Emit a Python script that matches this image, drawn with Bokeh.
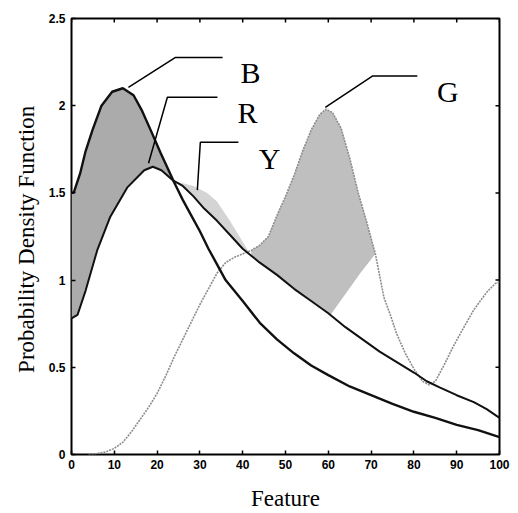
import math
from bokeh.plotting import figure
from bokeh.models import Range1d, FixedTicker, Title
from bokeh.embed import file_html
from bokeh.resources import INLINE
from bokeh.core.properties import value

# ---- data ----
x_ticks = [0, 10, 20, 30, 40, 50, 60, 70, 80, 90, 100]
y_ticks = [0, 0.5, 1, 1.5, 2, 2.5]
y_tick_labels = ["0", "0.5", "1", "1.5", "2", "2.5"]

# curve B (peak ~2.1 at x~12)
b_x = [0, 0.5, 2, 3.3, 4.9, 7, 9.5, 12, 14.5, 16.5, 18.5, 20.8, 22.5, 24, 26, 28, 30, 32,
       34, 36, 38, 40, 44, 48, 52, 56, 60, 65, 70, 75, 80, 85, 90, 95, 100]
b_y = [1.5, 1.5, 1.61, 1.74, 1.86, 2.0, 2.08, 2.1, 2.06, 1.97, 1.86, 1.73, 1.64, 1.56, 1.46,
       1.37, 1.28, 1.18, 1.09, 1.0, 0.94, 0.88, 0.755, 0.66, 0.58, 0.51, 0.455, 0.39, 0.34,
       0.29, 0.245, 0.21, 0.17, 0.14, 0.10]

# curve R (peak ~1.65 at x~19)
r_x = [0, 1.4, 3.3, 6, 9, 13, 17, 19, 21, 23.8, 26, 28.5, 31, 34, 37, 40, 42, 44, 48, 52, 56,
       60, 60.5, 64, 68, 72, 76, 80, 83, 86, 90, 94, 97, 100]
r_y = [0.78, 0.8, 0.94, 1.17, 1.36, 1.53, 1.63, 1.65, 1.63, 1.57, 1.54, 1.48, 1.41, 1.34,
       1.26, 1.18, 1.14, 1.1, 1.03, 0.95, 0.88, 0.81, 0.80, 0.73, 0.66, 0.59, 0.53, 0.47,
       0.42, 0.385, 0.34, 0.30, 0.26, 0.21]

# curve G (light dotted, peak ~1.98 at x~59.5)
g_x = [4, 6, 8, 10, 12, 14, 16, 18, 20, 22, 24, 26, 28, 30, 32, 34, 36, 38, 40, 42, 44, 46,
       48, 50, 52, 54, 56, 58, 59.5, 61, 63, 65, 67, 69, 71, 73, 74.5, 76, 78, 80, 82, 83.5,
       85, 87, 89, 91, 94, 97, 99, 100]
g_y = [0, 0.005, 0.015, 0.035, 0.07, 0.13, 0.2, 0.27, 0.35, 0.45, 0.56, 0.66, 0.76, 0.86,
       0.95, 1.04, 1.1, 1.13, 1.15, 1.17, 1.2, 1.25, 1.37, 1.48, 1.6, 1.74, 1.86, 1.95, 1.98,
       1.96, 1.87, 1.7, 1.5, 1.33, 1.15, 0.9, 0.8, 0.69, 0.58, 0.49, 0.42, 0.40, 0.42, 0.51,
       0.61, 0.7, 0.83, 0.93, 0.98, 0.99]

# upper edge of the light "Y" shaded area
y_shade_x = [23.8, 28.5, 31.7, 34, 37, 39.5, 42]
y_shade_y = [1.57, 1.54, 1.5, 1.45, 1.34, 1.24, 1.14]

# lower-right edge of the "G" shaded area (where it leaves curve R)
g_edge_x = [71, 67.5, 60.5]
g_edge_y = [1.15, 1.04, 0.80]

# labels and their leader lines
lab_text = ["B", "R", "Y", "G"]
lab_x = [41.8, 41.1, 46.3, 87.9]
lab_y = [2.19, 1.96, 1.70, 2.08]
lead_xs = [[13.3, 24.3, 35.3], [18.0, 22.4, 34.1], [29.4, 30.1, 39.0], [59.3, 70.3, 80.8]]
lead_ys = [[2.105, 2.277, 2.277], [1.67, 2.048, 2.048], [1.516, 1.79, 1.79], [1.99, 2.17, 2.17]]

X_MAX = x_ticks[-1]
Y_MAX = y_ticks[-1]

# ---- figure ----
W, H = 518, 513
p = figure(width=W, height=H, x_range=Range1d(0, X_MAX), y_range=Range1d(0, Y_MAX),
           output_backend="svg", toolbar_location=None,
           min_border_left=71, min_border_right=19, min_border_top=18, min_border_bottom=58)
p.background_fill_color = "white"
p.border_fill_color = "white"
p.outline_line_color = "black"
p.outline_line_width = 2
p.xgrid.visible = False
p.ygrid.visible = False


def sel(xs, ys, lo, hi):
    return [(a, b) for a, b in zip(xs, ys) if lo <= a <= hi]


# shaded B area: between B (top) and R (bottom), x in [0, 24]
top = sel(b_x, b_y, 0, 24)
bot = sel(r_x, r_y, 0, 23.8)[::-1]
p.patch([t[0] for t in top] + [t[0] for t in bot], [t[1] for t in top] + [t[1] for t in bot],
        fill_color="#ababab", line_color=None)

# shaded Y area: above R from 24 to 42
top = list(zip(y_shade_x, y_shade_y))
bot = sel(r_x, r_y, 23.8, 42)[::-1]
p.patch([t[0] for t in top] + [t[0] for t in bot], [t[1] for t in top] + [t[1] for t in bot],
        fill_color="#d4d4d4", line_color=None)

# shaded G area: between G (top) and R
top = sel(g_x, g_y, 42, 71)
bot = list(zip(g_edge_x, g_edge_y)) + sel(r_x, r_y, 42, 60)[::-1]
p.patch([t[0] for t in top] + [t[0] for t in bot], [t[1] for t in top] + [t[1] for t in bot],
        fill_color="#bfbfbf", line_color=None)

# curves
p.line(g_x, g_y, line_color="#8c8c8c", line_width=1.6, line_dash="2 1")
p.line(r_x, r_y, line_color="#111111", line_width=2)
p.line(b_x, b_y, line_color="#111111", line_width=2.4)

# leaders and labels
p.multi_line(lead_xs, lead_ys, line_color="black", line_width=1.5)
p.text(lab_x, lab_y, text=lab_text, text_font=value("Liberation Serif"),
       text_font_size="30px", text_align="center", text_baseline="middle", text_color="black")

# inward ticks on the top and right edges
p.ray(x=x_ticks, y=[Y_MAX] * len(x_ticks), length=4, length_units="screen",
      angle=-math.pi / 2, line_color="black", line_width=1.5)
p.ray(x=[X_MAX] * len(y_ticks), y=y_ticks, length=4, length_units="screen",
      angle=math.pi, line_color="black", line_width=1.5)

# axes
for ax in (p.xaxis[0], p.yaxis[0]):
    ax.axis_line_color = None
    ax.major_tick_in = 4
    ax.major_tick_out = 0
    ax.major_tick_line_width = 1.5
    ax.minor_tick_line_color = None
    ax.major_label_text_font = "Liberation Sans"
    ax.major_label_text_font_style = "bold"
    ax.major_label_text_font_size = "12px"
    ax.major_label_text_color = "black"
    ax.axis_label_text_font = "Liberation Serif"
    ax.axis_label_text_font_style = "normal"
    ax.axis_label_text_font_size = "23px"
    ax.axis_label_text_color = "black"

p.xaxis.ticker = FixedTicker(ticks=x_ticks)
p.yaxis.ticker = FixedTicker(ticks=y_ticks)
p.yaxis.major_label_overrides = dict(zip(y_ticks, y_tick_labels))
p.xaxis.axis_label = "Feature"
p.xaxis.major_label_standoff = 5
p.xaxis.axis_label_standoff = 14
p.yaxis.major_label_standoff = 6

# y-axis title in the left panel
p.add_layout(Title(text="Probability  Density Function", align="center", offset=28,
                   text_font="Liberation Serif", text_font_size="23px",
                   text_font_style="normal", text_color="black", standoff=14), "left")

open("out.html", "w").write(file_html(p, INLINE))
